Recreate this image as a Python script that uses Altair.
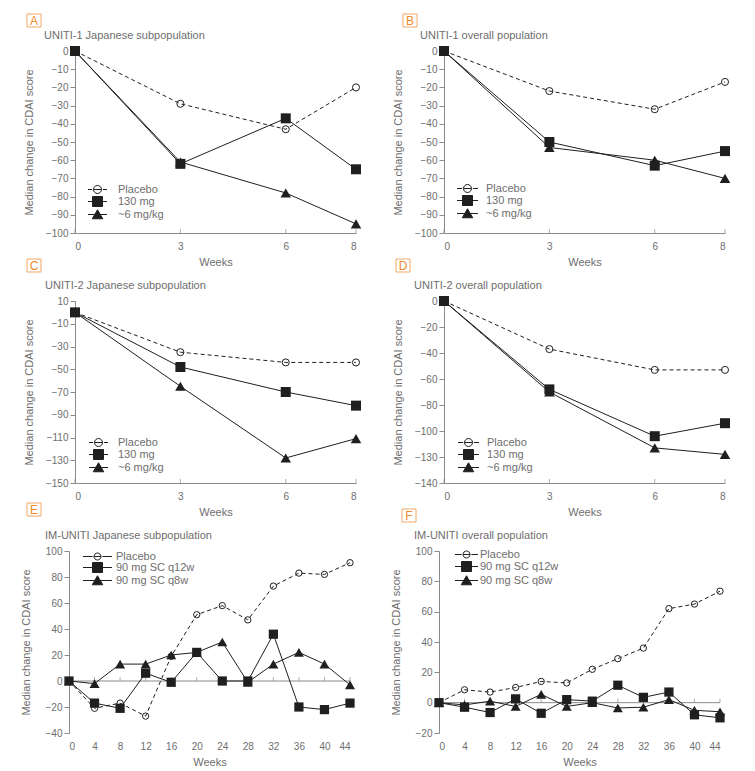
import altair as alt
import pandas as pd

# ---------------- data ----------------
weeks_uniti = [0, 3, 6, 8]
weeks_im = [0, 4, 8, 12, 16, 20, 24, 28, 32, 36, 40, 44]

names_uniti = ["Placebo", "130 mg", "~6 mg/kg"]
names_im = ["Placebo", "90 mg SC q12w", "90 mg SC q8w"]

a_placebo = [0, -29, -43, -20]
a_130 = [0, -62, -37, -65]
a_6 = [0, -61, -78, -95]

b_placebo = [0, -22, -32, -17]
b_130 = [0, -50, -63, -55]
b_6 = [0, -53, -60, -70]

c_placebo = [0, -35, -44, -44]
c_130 = [0, -48, -70, -82]
c_6 = [0, -65, -128, -111]

d_placebo = [0, -37, -53, -53]
d_130 = [0, -68, -104, -94]
d_6 = [0, -70, -113, -118]

e_placebo = [0, -21, -17, -27, 19, 51, 58, 47, 73, 83, 82, 91]
e_q12w = [0, -17, -21, 6, -1, 22, 0, 0, 36, -20, -22, -17]
e_q8w = [0, -2, 13, 13, 20, 22, 30, -1, 13, 22, 13, -3]

f_placebo = [0, 8.5, 7, 10, 14, 13, 22, 29, 36, 62, 65, 73.5]
f_q12w = [0, -3, -6.5, 2.5, -7, 2, 1, 11.5, 3.5, 7, -8, -10]
f_q8w = [0, -1.5, 1, -2.5, 5.5, -2.5, 0, -3.5, -3, 2, -5, -6]

yticks_a = [0, -10, -20, -30, -40, -50, -60, -70, -80, -90, -100]
yticks_c = [10, -10, -30, -50, -70, -90, -110, -130, -150]
yticks_d = [0, -20, -40, -60, -80, -100, -120, -140]
yticks_e = [100, 80, 60, 40, 20, 0, -20, -40]
yticks_f = [100, 80, 60, 40, 20, 0, -20]

# ---------------- style ----------------
INK = "#1f1f1f"
AXIS = "#8a8a8a"
TEXT = "#6e6e6e"
ORANGE = "#ec8a2e"
ORANGE_BOX = "#f2a866"
FONT = "Liberation Sans"


def legend_paths(half, rc):
    u = 5.0  # px per path unit (symbolSize 100)
    h = half / u
    r = rc / u
    g = 1.4 / u
    placebo = (f"M{-h:.2f},0H{-(r + g):.2f}M{-r:.2f},0H{r:.2f}M{r + g:.2f},0H{h:.2f}"
               f"M{-r:.2f},0A{r:.2f},{r:.2f},0,1,1,{r:.2f},0A{r:.2f},{r:.2f},0,1,1,{-r:.2f},0Z")
    square = f"M{-h:.2f},0H{h:.2f}M-1,-1H1V1H-1Z"
    tri = f"M{-h:.2f},0H{h:.2f}M0,-0.95L1.05,0.85L-1.05,0.85Z"
    return [placebo, square, tri]


def panel(letter, ptitle, weeks, names, series, ydom, yticks, w, h, zero_line, shift,
          box, title_dx, ytitle_x, leg, msq, mtri, mcirc, label_expr=None):
    rows = []
    for n, vals in zip(names, series):
        for wk, v in zip(weeks, vals):
            rows.append({"week": wk, "value": v, "series": n})
    df = pd.DataFrame(rows)
    tick_df = pd.DataFrame({"week": weeks})

    xs = alt.Scale(domain=[weeks[0], weeks[-1]], range=[-shift, w - shift], nice=False, zero=False)
    ys = alt.Scale(domain=[ydom[0], ydom[1]], nice=False, zero=False)

    ykw = dict(values=yticks, title="Median change in CDAI score", titleX=ytitle_x,
               tickSize=5, labelPadding=2, grid=False, offset=shift, labelOverlap=False)
    if label_expr:
        ykw["labelExpr"] = label_expr

    x_axis = alt.Axis(values=weeks, title="Weeks", domain=not zero_line, ticks=False,
                      labelPadding=8, titlePadding=5, grid=False, labelOverlap=False)
    x_enc = alt.X("week:Q", scale=xs, axis=x_axis)
    y_enc = alt.Y("value:Q", scale=ys, axis=alt.Axis(**ykw))

    base = alt.Chart(df).encode(x=x_enc, y=y_enc)
    p_name, sq_name, tri_name = names

    def sub(n):
        return base.transform_filter(alt.datum.series == n)

    layers = []
    tick_y = 0 if zero_line else ydom[0]
    tb = alt.Chart(tick_df).encode(x=x_enc, y=alt.Y("ty:Q", scale=ys, axis=alt.Axis(**ykw)))
    if zero_line:
        layers.append(alt.Chart(tick_df).transform_aggregate(
            lo="min(week)", hi="max(week)").transform_calculate(ty=f"{tick_y}").mark_rule(
            color=AXIS, strokeWidth=1).encode(
            x=alt.X("lo:Q", scale=xs, axis=x_axis), x2="hi:Q",
            y=alt.Y("ty:Q", scale=ys, axis=alt.Axis(**ykw))))
    layers.append(tb.transform_calculate(ty=f"{tick_y}").mark_tick(
        color=AXIS, thickness=1, size=4, yOffset=-2, orient="vertical"))

    layers += [
        sub(p_name).mark_line(color=INK, strokeWidth=1, strokeDash=[4, 3]),
        sub(p_name).mark_point(shape="circle", size=mcirc, filled=False, color=INK,
                               strokeWidth=1, opacity=1),
        sub(tri_name).mark_line(color=INK, strokeWidth=1),
        sub(tri_name).mark_point(shape="triangle-up", size=mtri, filled=True, color=INK, opacity=1),
        sub(sq_name).mark_line(color=INK, strokeWidth=1),
        sub(sq_name).mark_point(shape="square", size=msq, filled=True, color=INK, opacity=1),
    ]

    cx, cy, half, rc, label_dx, row_pad = leg
    lg_def = alt.Legend(orient="none", legendX=cx - 5, legendY=cy - 5, title=None, padding=0,
                        symbolSize=100, symbolStrokeWidth=1, symbolStrokeColor=INK,
                        labelFont=FONT, labelFontSize=11, labelColor=TEXT,
                        labelOffset=label_dx - 5, rowPadding=row_pad, symbolOpacity=1)
    lg = alt.Chart(df).transform_filter("false").mark_point(
        filled=True, strokeWidth=1, opacity=1).encode(
        shape=alt.Shape("series:N", scale=alt.Scale(domain=names, range=legend_paths(half, rc)),
                        legend=lg_def),
        fill=alt.Fill("series:N", scale=alt.Scale(domain=names, range=["white", INK, INK]),
                      legend=lg_def),
        stroke=alt.Stroke("series:N", scale=alt.Scale(domain=names, range=[INK, INK, INK]),
                          legend=lg_def),
    )
    layers.append(lg)

    bx, by = box
    ann = alt.Chart(pd.DataFrame({"letter": [letter], "title": [ptitle]}))
    layers.append(ann.mark_rect(fill="white", stroke=ORANGE_BOX, strokeWidth=1).encode(
        x=alt.value(bx), x2=alt.value(bx + 14), y=alt.value(by), y2=alt.value(by + 13)))
    layers.append(ann.mark_text(font=FONT, fontSize=12, color=ORANGE, align="center",
                                baseline="middle").encode(
        text="letter:N", x=alt.value(bx + 7), y=alt.value(by + 7)))
    layers.append(ann.mark_text(font=FONT, fontSize=11, color=TEXT, align="left",
                                baseline="alphabetic").encode(
        text="title:N", x=alt.value(title_dx), y=alt.value(-12)))

    return alt.layer(*layers).properties(width=w, height=h)


W, H = 281, 182

A = panel("A", "UNITI-1 Japanese subpopulation", weeks_uniti, names_uniti,
          [a_placebo, a_130, a_6], (-100, 0), yticks_a, W, H, False, 0,
          (-48, -37), -31, -41, (22, 138, 9.5, 4, 20, -2.5), 100, 110, 50)
B = panel("B", "UNITI-1 overall population", weeks_uniti, names_uniti,
          [b_placebo, b_130, b_6], (-100, 0), yticks_a, W, H, False, 0,
          (-41, -37), -24, -41, (23, 137, 10.5, 4, 18, -2.5), 100, 110, 50)
C = panel("C", "UNITI-2 Japanese subpopulation", weeks_uniti, names_uniti,
          [c_placebo, c_130, c_6], (-150, 10), yticks_c, W, H, False, 0,
          (-48, -42), -30, -41, (23, 141, 9.5, 4, 19, -2.5), 100, 110, 50)
D = panel("D", "UNITI-2 overall population", weeks_uniti, names_uniti,
          [d_placebo, d_130, d_6], (-140, 0), yticks_d, W, H, False, 0,
          (-48, -42), -30, -41, (24, 141, 10.5, 4, 18, -2.5), 100, 110, 50,
          label_expr="datum.value == -120 ? '\u2212130' : datum.label")
E = panel("E", "IM-UNITI Japanese subpopulation", weeks_im, names_im,
          [e_placebo, e_q12w, e_q8w], (-40, 100), yticks_e, W, H, True, 6,
          (-48, -48), -30, -38, (22, 5, 14.5, 3.5, 18, -2), 85, 100, 40)
F = panel("F", "IM-UNITI overall population", weeks_im, names_im,
          [f_placebo, f_q12w, f_q8w], (-20, 100), yticks_f, W, H, True, 5,
          (-42, -42), -30, -38, (22, 3, 11.5, 3.5, 13, -1), 85, 100, 40)

chart = alt.concat(A, B, C, D, E, F, columns=2,
                   spacing=alt.RowColnumber(row=68, column=88), bounds="flush").resolve_scale(
    shape="independent", fill="independent", stroke="independent",
    x="independent", y="independent").resolve_legend(
    shape="independent", fill="independent", stroke="independent").properties(
    padding={"left": 12, "top": 5, "right": 5, "bottom": 5},
    background="white",
).configure_view(stroke=None).configure_axis(
    domainColor=AXIS, tickColor=AXIS, labelColor=TEXT, titleColor=TEXT,
    labelFont=FONT, titleFont=FONT, labelFontSize=10, titleFontSize=11,
    titleFontWeight="normal", domainWidth=1, tickWidth=1,
)

chart.save("out.html", embed_options={"renderer": "svg", "actions": False})
